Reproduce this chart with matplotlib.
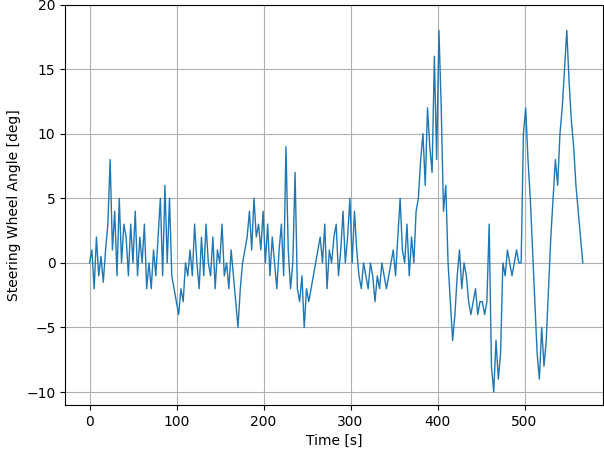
import numpy as np
import matplotlib
matplotlib.use("Agg")
import matplotlib.pyplot as plt

angle = [0,1,-2,2,-1,0.5,-1.5,1,
 3,8,1,4,-1,5,0,3,
 2,-1,3,0,4,-1,2,0,3,-2,
 0,-2,1,-1,2,5,-1,6,0,5,-1,
 -2,-3,-4,-2,-3,0,-1,
 1,-1,3,0,-2,2,-1,3,0,-1,2,-2,1,0,3,-1,0,-2,1,-1,
 -3,-5,-2,0,1,
 2,4,1,5,2,3,
 1,4,0,3,-1,2,0,-2,1,3,-1,
 9,1,-2,0,7,
 -2,-3,-1,-5,-2,-3,-2,
 -1,0,1,2,0,3,-2,1,0,2,3,-1,1,4,0,
 2,5,0,4,1,
 -1,-2,0,-1,-2,0,-1,-3,-1,-2,0,-1,-2,-1,0,1,-1,
 2,5,1,0,3,-1,2,0,4,
 5,8,10,6,12,9,7,16,8,18,12,4,6,
 0,-3,-6,-4,-1,1,-2,0,-1,
 -3,-4,-3,-2,-4,-3,-3,-4,-3,3,
 -8,-10,-6,-9,-7,
 0,-1,1,0,-1,0,1,0,
 0,10,12,8,5,1,-3,-7,-9,-5,
 -8,-6,-2,2,5,8,6,
 10,12,15,18,14,11,9,6,4,2,0]
t_end = 567
time = np.linspace(0, t_end, len(angle))

fig, ax = plt.subplots(figsize=(6.04, 4.5), dpi=100)
ax.plot(time, angle, color="#1f77b4", lw=1.0)
ax.set_xlim(-28, 590)
ax.set_ylim(-11, 20)
ax.set_yticks([-10, -5, 0, 5, 10, 15, 20])
ax.set_xticks([0, 100, 200, 300, 400, 500])
ax.grid(True, color="#b0b0b0", lw=0.8)
ax.set_xlabel("Time [s]")
ax.set_ylabel("Steering Wheel Angle [deg]")
fig.subplots_adjust(left=0.108, right=0.998, top=0.99, bottom=0.1)
fig.savefig("out.png")
